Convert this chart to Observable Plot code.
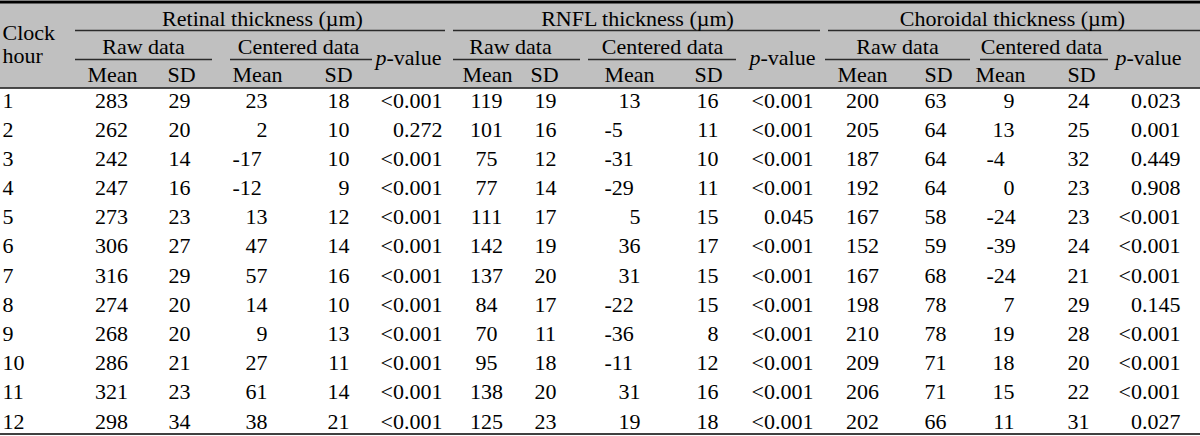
<!DOCTYPE html>
<html>
<head>
<meta charset="utf-8">
<script src="https://cdn.jsdelivr.net/npm/d3@7"></script>
<script src="https://cdn.jsdelivr.net/npm/@observablehq/plot@0.6"></script>
<style>
  html, body { margin: 0; padding: 0; background: #fff; }
  #chart svg { display: block; }
</style>
</head>
<body>
<div id="chart"></div>
<script>
// ---------- DATA ----------
const hours = [1, 2, 3, 4, 5, 6, 7, 8, 9, 10, 11, 12];

const groupTitles = ["Retinal thickness (µm)", "RNFL thickness (µm)", "Choroidal thickness (µm)"];
const subTitles = ["Raw data", "Centered data"];
const statLabels = ["Mean", "SD"];
const rowHeader = ["Clock", "hour"];
const pLabel = ["p", "-value"];

const retinalRawMean = [283, 262, 242, 247, 273, 306, 316, 274, 268, 286, 321, 298];
const retinalRawSD = [29, 20, 14, 16, 23, 27, 29, 20, 20, 21, 23, 34];
const retinalCenMean = [23, 2, -17, -12, 13, 47, 57, 14, 9, 27, 61, 38];
const retinalCenSD = [18, 10, 10, 9, 12, 14, 16, 10, 13, 11, 14, 21];
const retinalP = ["<0.001", "0.272", "<0.001", "<0.001", "<0.001", "<0.001", "<0.001", "<0.001", "<0.001", "<0.001", "<0.001", "<0.001"];

const rnflRawMean = [119, 101, 75, 77, 111, 142, 137, 84, 70, 95, 138, 125];
const rnflRawSD = [19, 16, 12, 14, 17, 19, 20, 17, 11, 18, 20, 23];
const rnflCenMean = [13, -5, -31, -29, 5, 36, 31, -22, -36, -11, 31, 19];
const rnflCenSD = [16, 11, 10, 11, 15, 17, 15, 15, 8, 12, 16, 18];
const rnflP = ["<0.001", "<0.001", "<0.001", "<0.001", "0.045", "<0.001", "<0.001", "<0.001", "<0.001", "<0.001", "<0.001", "<0.001"];

const choroidRawMean = [200, 205, 187, 192, 167, 152, 167, 198, 210, 209, 206, 202];
const choroidRawSD = [63, 64, 64, 64, 58, 59, 68, 78, 78, 71, 71, 66];
const choroidCenMean = [9, 13, -4, 0, -24, -39, -24, 7, 19, 18, 15, 11];
const choroidCenSD = [24, 25, 32, 23, 23, 24, 21, 29, 28, 20, 22, 31];
const choroidP = ["0.023", "0.001", "0.449", "0.908", "<0.001", "<0.001", "<0.001", "0.145", "<0.001", "<0.001", "<0.001", "0.027"];

const groupSeries = [
  [retinalRawMean, retinalRawSD, retinalCenMean, retinalCenSD, retinalP],
  [rnflRawMean, rnflRawSD, rnflCenMean, rnflCenSD, rnflP],
  [choroidRawMean, choroidRawSD, choroidCenMean, choroidCenSD, choroidP]
];

// ---------- LAYOUT (positions, not data) ----------
const W = 1200, H = 436, FS = 22;
const FONT = "'Liberation Serif', 'Times New Roman', serif";
const layout = [
  {title: 262, line: [75, 445], raw: [75, 212], cen: [230, 372], rawLbl: 143, cenLbl: 298, pLbl: 408,
   mH: 112, sH: 181, cmH: 257, csH: 338, rawMean: 111, rawSD: 179, cenL: 232, cenR: 267, cenSD: 349, p: 442},
  {title: 637, line: [453, 820], raw: [453, 580], cen: [588, 736], rawLbl: 510, cenLbl: 662, pLbl: 782,
   mH: 487, sH: 544, cmH: 629, csH: 708, rawMean: 486, rawSD: 545, cenL: 604, cenR: 640, cenSD: 718, p: 813},
  {title: 1012, line: [828, 1200], raw: [825, 970], cen: [980, 1108], rawLbl: 897, cenLbl: 1041, pLbl: 1148,
   mH: 862, sH: 938, cmH: 1000, csH: 1081, rawMean: 862, rawSD: 935, cenL: 986, cenR: 1014, cenSD: 1089, p: 1180}
];
const yTitle = 18, ySub = 46, yStat = 74, yClock = 32, yHour = 55, yP = 57;
const yLine1 = 30, yLine2 = 59, yHeadBottom = 87.5, yBottom = 433.5;

// row positions via a Plot band scale
const rowScale = Plot.scale({y: {type: "band", domain: hours, range: [85.4, 435.6], padding: 0}});
const rowY = h => rowScale.apply(h) + rowScale.bandwidth / 2;

// ---------- BUILD TEXT TABLES ----------
const tStart = [], tMiddle = [], tEnd = [], tItalicEnd = [];
// header
tStart.push({x: 2, y: yClock, t: rowHeader[0]}, {x: 2, y: yHour, t: rowHeader[1]});
layout.forEach((L, g) => {
  tMiddle.push({x: L.title, y: yTitle, t: groupTitles[g]});
  tMiddle.push({x: L.rawLbl, y: ySub, t: subTitles[0]});
  tMiddle.push({x: L.cenLbl, y: ySub, t: subTitles[1]});
  tMiddle.push({x: L.mH, y: yStat, t: statLabels[0]});
  tMiddle.push({x: L.sH, y: yStat, t: statLabels[1]});
  tMiddle.push({x: L.cmH, y: yStat, t: statLabels[0]});
  tMiddle.push({x: L.csH, y: yStat, t: statLabels[1]});
  const split = L.pLbl - 22;
  tItalicEnd.push({x: split, y: yP, t: pLabel[0]});
  tStart.push({x: split, y: yP, t: pLabel[1]});
});
// body
hours.forEach((h, i) => {
  const y = rowY(h);
  tStart.push({x: 2, y, t: String(h)});
  layout.forEach((L, g) => {
    const [rm, rs, cm, cs, p] = groupSeries[g];
    tMiddle.push({x: L.rawMean, y, t: String(rm[i])});
    tMiddle.push({x: L.rawSD, y, t: String(rs[i])});
    if (cm[i] < 0) tStart.push({x: L.cenL, y, t: String(cm[i])});
    else tEnd.push({x: L.cenR, y, t: String(cm[i])});
    tEnd.push({x: L.cenSD, y, t: String(cs[i])});
    tEnd.push({x: L.p, y, t: p[i]});
  });
});

// rules
const thinRules = [];
layout.forEach(L => {
  thinRules.push({x1: L.line[0], x2: L.line[1], y: yLine1});
  thinRules.push({x1: L.raw[0], x2: L.raw[1], y: yLine2});
  thinRules.push({x1: L.cen[0], x2: L.cen[1], y: yLine2});
});

const textOpts = (anchor, extra = {}) => ({x: "x", y: "y", text: "t", textAnchor: anchor, fontSize: FS,
  fontFamily: FONT, fill: "#000", lineAnchor: "middle", ...extra});

const chart = Plot.plot({
  width: W,
  height: H,
  margin: 0,
  x: {type: "identity", axis: null},
  y: {type: "identity", axis: null},
  style: {background: "#fff", fontFamily: FONT},
  marks: [
    Plot.rect([{x1: 0, x2: W, y1: 2, y2: yHeadBottom}], {x1: "x1", x2: "x2", y1: "y1", y2: "y2", fill: "#c0c0c0"}),
    Plot.ruleY([{x1: 0, x2: W, y: 1.5}], {x1: "x1", x2: "x2", y: "y", stroke: "#000", strokeWidth: 3}),
    Plot.ruleY(thinRules, {x1: "x1", x2: "x2", y: "y", stroke: "#2a2a2a", strokeWidth: 1.4}),
    Plot.ruleY([{x1: 0, x2: W, y: yHeadBottom}], {x1: "x1", x2: "x2", y: "y", stroke: "#111", strokeWidth: 1.3}),
    Plot.ruleY([{x1: 0, x2: W, y: yBottom}], {x1: "x1", x2: "x2", y: "y", stroke: "#000", strokeWidth: 1.5}),
    Plot.text(tStart, textOpts("start")),
    Plot.text(tMiddle, textOpts("middle")),
    Plot.text(tEnd, textOpts("end")),
    Plot.text(tItalicEnd, textOpts("end", {fontStyle: "italic"}))
  ]
});
document.getElementById("chart").appendChild(chart);
</script>
</body>
</html>
